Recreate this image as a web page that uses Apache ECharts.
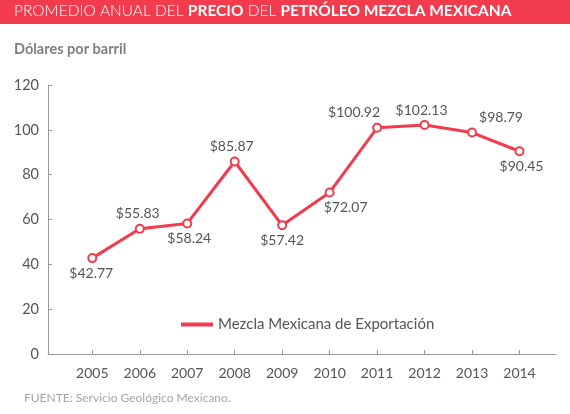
<!DOCTYPE html>
<html>
<head>
<meta charset="utf-8">
<script src="https://cdn.jsdelivr.net/npm/echarts@6/dist/echarts.min.js"></script>
<style>html,body{margin:0;padding:0;background:#fff;}#c{width:570px;height:414px;}</style>
</head>
<body>
<div id="c"></div>
<script>
var years = [2005, 2006, 2007, 2008, 2009, 2010, 2011, 2012, 2013, 2014];
var prices = [42.77, 55.83, 58.24, 85.87, 57.42, 72.07, 100.92, 102.13, 98.79, 90.45];
var yTicks = [0, 20, 40, 60, 80, 100, 120];
var seriesName = 'Mezcla Mexicana de Exportación';

// label placement (style only)
var labelPos = ['bottom','top','bottom','top','bottom','bottom','top','top','top','bottom'];
var labelDx = [-1, -2, 2, -3, 0, 16, -23, -3, 29, 2];

var RED = '#F23B4D';
var chart = echarts.init(document.getElementById('c'));
var data = years.map(function (y, i) {
  return {
    value: [y, prices[i]],
    label: { position: labelPos[i], offset: [labelDx[i], 0] }
  };
});
chart.setOption({
  animation: false,
  textStyle: { fontFamily: 'Lato' },
  graphic: [
    { type: 'rect', left: 0, top: 0, shape: { width: 570, height: 24 }, style: { fill: RED }, z: 0 },
    { type: 'text', left: 14, top: 3, z: 10,
      style: {
        rich: {
          n: { fontFamily: 'Lato', fontSize: 15.5, fontWeight: 300, fill: '#fff' },
          b: { fontFamily: 'Lato', fontSize: 15.5, fontWeight: 'bold', fill: '#fff' }
        },
        text: '{n|PROMEDIO ANUAL DEL }{b|PRECIO}{n| DEL }{b|PETRÓLEO MEZCLA MEXICANA}'
      }
    },
    { type: 'text', left: 14, top: 42, z: 10,
      style: { text: 'Dólares por barril', fontFamily: 'Lato', fontSize: 14.5, fontWeight: 'bold', fill: '#7f7f7f' } },
    { type: 'text', left: 24, top: 392, z: 10,
      style: { text: 'FUENTE: Servicio Geológico Mexicano.', fontFamily: 'Lato', fontSize: 12, fill: '#a6a6a6' } }
  ],
  legend: {
    left: 176, top: 312,
    icon: 'rect', itemWidth: 32, itemHeight: 4, itemGap: 6,
    itemStyle: { color: RED, borderWidth: 0 },
    textStyle: { fontFamily: 'Lato', fontSize: 15, color: '#555' },
    data: [seriesName]
  },
  grid: { left: 48, right: 14, top: 85, bottom: 60, containLabel: false },
  xAxis: {
    type: 'value',
    min: 2004.067, max: 2014.769,
    axisLine: { show: true, lineStyle: { color: '#999', width: 1 } },
    axisTick: { show: true, inside: true, length: 4, lineStyle: { color: '#999' }, customValues: years },
    axisLabel: { customValues: years, margin: 12, fontSize: 14, color: '#555', fontFamily: 'Lato', formatter: function (v) { return String(v); } },
    splitLine: { show: false }
  },
  yAxis: {
    type: 'value',
    min: 0, max: 120, interval: 20,
    axisLine: { show: true, lineStyle: { color: '#999', width: 1 } },
    axisTick: { show: true, inside: true, length: 4, lineStyle: { color: '#999' } },
    axisLabel: { margin: 9, fontSize: 14.5, color: '#555', fontFamily: 'Lato',
      customValues: yTicks },
    splitLine: { show: false }
  },
  series: [{
    name: seriesName,
    type: 'line',
    data: data,
    symbol: 'circle',
    symbolSize: 8,
    showAllSymbol: true,
    lineStyle: { color: RED, width: 3 },
    itemStyle: { color: '#fff', borderColor: RED, borderWidth: 2 },
    label: {
      show: true, distance: 3, fontSize: 14, color: '#555', fontFamily: 'Lato',
      formatter: function (p) { return '$' + prices[p.dataIndex].toFixed(2); }
    },
    emphasis: { disabled: true }
  }]
});
</script>
</body>
</html>
